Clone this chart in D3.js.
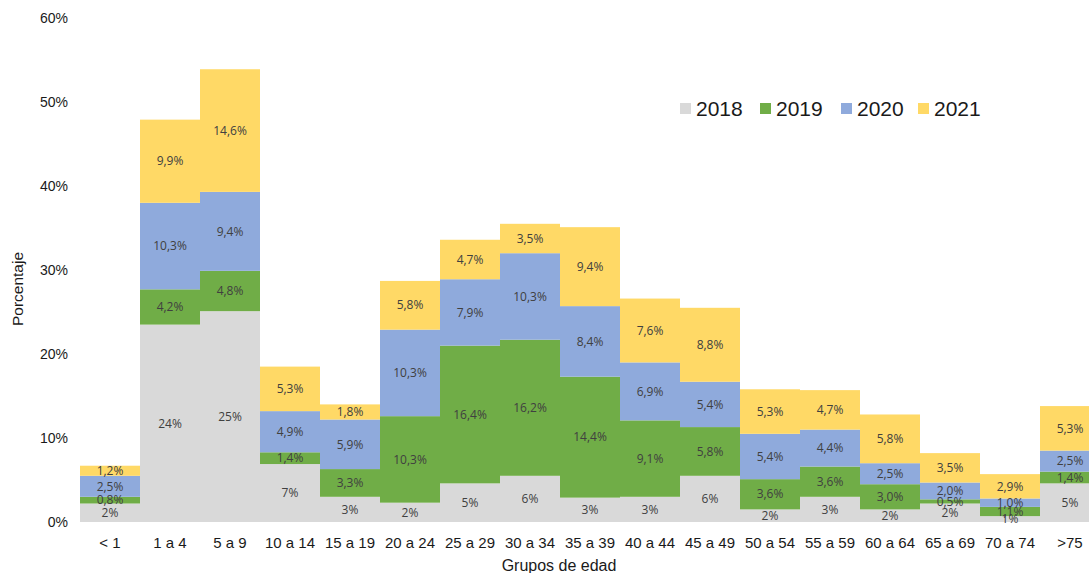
<!DOCTYPE html>
<html>
<head>
<meta charset="utf-8">
<script src="https://cdn.jsdelivr.net/npm/d3@7"></script>
<style>
  html, body { margin: 0; padding: 0; background: #fff; }
  svg { display: block; }
</style>
</head>
<body>
<div id="chart"></div>
<script>
// Age groups and the share (%) of each year
const groups = ["< 1", "1 a 4", "5 a 9", "10 a 14", "15 a 19", "20 a 24", "25 a 29", "30 a 34",
  "35 a 39", "40 a 44", "45 a 49", "50 a 54", "55 a 59", "60 a 64", "65 a 69", "70 a 74", ">75"];
const years = ["2018", "2019", "2020", "2021"];

const v2018 = [2.2, 23.5, 25.1, 6.9, 3.0, 2.3, 4.6, 5.5, 2.9, 3.0, 5.5, 1.5, 3.0, 1.5, 2.2, 0.7, 4.6];
const v2019 = [0.8, 4.2, 4.8, 1.4, 3.3, 10.3, 16.4, 16.2, 14.4, 9.1, 5.8, 3.6, 3.6, 3.0, 0.5, 1.1, 1.4];
const v2020 = [2.5, 10.3, 9.4, 4.9, 5.9, 10.3, 7.9, 10.3, 8.4, 6.9, 5.4, 5.4, 4.4, 2.5, 2.0, 1.0, 2.5];
const v2021 = [1.2, 9.9, 14.6, 5.3, 1.8, 5.8, 4.7, 3.5, 9.4, 7.6, 8.8, 5.3, 4.7, 5.8, 3.5, 2.9, 5.3];

const yTicks = [0, 10, 20, 30, 40, 50, 60];

const colors = ["#d9d9d9", "#70ad47", "#8faadc", "#ffd966"];

const width = 1089;
const height = 573;

// build the table d3.stack wants
const table = groups.map((g, i) => ({
  group: g, "2018": v2018[i], "2019": v2019[i], "2020": v2020[i], "2021": v2021[i]
}));
const series = d3.stack().keys(years)(table);

const x = d3.scaleBand().domain(groups).range([80, 1100]).padding(0);
const y = d3.scaleLinear().domain([0, 60]).range([522, 18]);

const svg = d3.select("#chart").append("svg")
    .attr("width", width)
    .attr("height", height)
    .attr("style", "font-family: 'Liberation Sans', Arial, sans-serif;");

// bars
const layer = svg.append("g").selectAll("g")
  .data(series)
  .join("g")
    .attr("fill", (d, i) => colors[i]);

layer.selectAll("rect")
  .data(d => d)
  .join("rect")
    .attr("x", d => x(d.data.group))
    .attr("y", d => y(d[1]))
    .attr("width", x.bandwidth())
    .attr("height", d => y(d[0]) - y(d[1]));

// value labels, decimal comma; 2018 is shown rounded
const fmt = (v, k) => k === 0 ? Math.round(v) + "%" : v.toFixed(1).replace(".", ",") + "%";

series.forEach((s, k) => {
  svg.append("g").selectAll("text")
    .data(s)
    .join("text")
      .attr("x", d => x(d.data.group) + x.bandwidth() / 2)
      .attr("y", d => (y(d[0]) + y(d[1])) / 2)
      .attr("dy", "0.35em")
      .attr("text-anchor", "middle")
      .attr("fill", "#404040")
      .attr("font-family", "'Open Sans', 'DejaVu Sans', sans-serif")
      .attr("font-size", 12)
      .text(d => fmt(d.data[s.key], k));
});

// y axis tick labels
svg.append("g").selectAll("text")
  .data(yTicks)
  .join("text")
    .attr("x", 68)
    .attr("y", d => y(d))
    .attr("dy", "0.35em")
    .attr("text-anchor", "end")
    .attr("font-size", 14)
    .attr("fill", "#1a1a1a")
    .text(d => d + "%");

// x axis labels
svg.append("g").selectAll("text")
  .data(groups)
  .join("text")
    .attr("x", d => x(d) + x.bandwidth() / 2)
    .attr("y", 543)
    .attr("dy", "0.35em")
    .attr("text-anchor", "middle")
    .attr("font-size", 15)
    .attr("fill", "#1a1a1a")
    .text(d => d);

// axis titles
svg.append("text")
    .attr("x", 559)
    .attr("y", 565)
    .attr("dy", "0.35em")
    .attr("text-anchor", "middle")
    .attr("font-size", 16)
    .attr("fill", "#1a1a1a")
    .text("Grupos de edad");

svg.append("text")
    .attr("transform", "translate(18,289) rotate(-90)")
    .attr("dy", "0.35em")
    .attr("text-anchor", "middle")
    .attr("font-size", 15.5)
    .attr("fill", "#1a1a1a")
    .text("Porcentaje");

// legend
const legendX = [680, 760, 841, 918];
const legend = svg.append("g").selectAll("g")
  .data(years)
  .join("g")
    .attr("transform", (d, i) => `translate(${legendX[i]},109)`);

legend.append("rect")
    .attr("y", -6)
    .attr("width", 11)
    .attr("height", 11)
    .attr("fill", (d, i) => colors[i]);

legend.append("text")
    .attr("x", 16)
    .attr("dy", "0.35em")
    .attr("font-size", 21)
    .attr("fill", "#1a1a1a")
    .text(d => d);
</script>
</body>
</html>
